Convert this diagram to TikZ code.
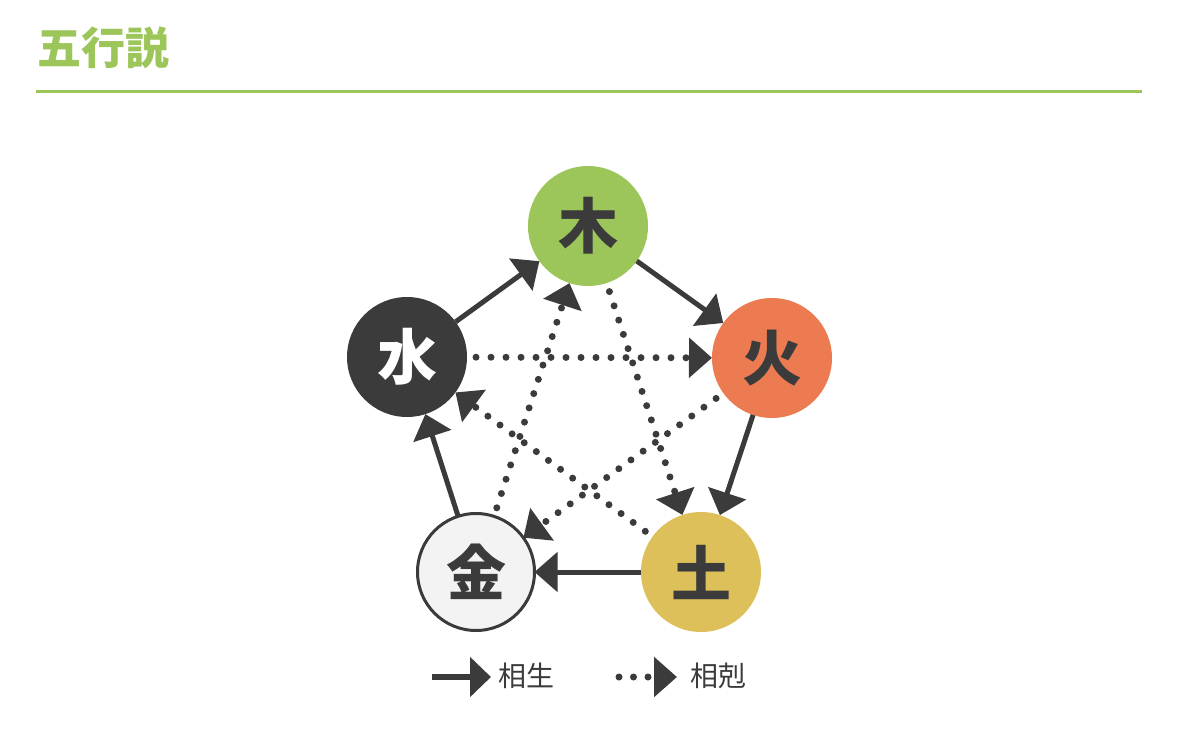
\documentclass[tikz,border=0pt]{standalone}
\usepackage{fontspec}
\newfontfamily\cjk{Noto Sans CJK JP}
\usetikzlibrary{arrows.meta}
\definecolor{wgreen}{HTML}{9CC55A}
\definecolor{wfire}{HTML}{EC7B51}
\definecolor{wdark}{HTML}{3B3B3B}
\definecolor{wmetal}{HTML}{F3F3F3}
\definecolor{wearth}{HTML}{DEC05A}
\tikzset{
  elem/.style={circle,minimum size=120pt,inner sep=0pt,outer sep=0pt,font=\cjk\bfseries\fontsize{60}{60}\selectfont,text=wdark},
  gen/.style={line width=5pt,draw=wdark,-{Triangle[length=23pt,width=39pt]}},
  ctrl/.style={line width=7pt,draw=wdark,line cap=round,dash pattern=on 0pt off 15pt,shorten <=9pt,-{Triangle[length=23pt,width=39pt]}},
  legtext/.style={font=\cjk\fontsize{28}{28}\selectfont,text=wdark,anchor=west,inner sep=0pt}
}
\begin{document}
\begin{tikzpicture}[x=1pt,y=-1pt]
\useasboundingbox (0,0) rectangle (1179,731);
% title
\node[font=\cjk\bfseries\fontsize{44}{44}\selectfont,text=wgreen,anchor=west,inner sep=0pt] (title) at (37,48) {五行説};
\coordinate (rulel) at (36,91.5);
\coordinate (ruler) at (1142,91.5);
\draw[line width=3pt,draw=wgreen] (rulel) -- (ruler);
% elements
\node[elem,fill=wgreen] (wood) at (588,226) {木};
\node[elem,fill=wfire] (fire) at (772,358) {火};
\node[elem,fill=wearth] (earth) at (701,572) {土};
\node[elem,fill=wmetal,draw=wdark,line width=3pt,minimum size=117pt] (metal) at (476,572) {金};
\node[elem,fill=wdark,text=white] (water) at (407,357) {水};
% generating cycle
\draw[gen] (water) -- (wood);
\draw[gen] (wood) -- (fire);
\draw[gen] (fire) -- (earth);
\draw[gen] (earth) -- (metal);
\draw[gen] (metal) -- (water);
% controlling cycle
\draw[ctrl] (water) -- (fire);
\draw[ctrl] (fire) -- (metal);
\draw[ctrl] (metal) -- (wood);
\draw[ctrl] (wood) -- (earth);
\draw[ctrl] (earth) -- (water);
% legend
\coordinate (gs) at (432,677);
\coordinate (ge) at (491,677);
\draw[line width=6pt,draw=wdark,-{Triangle[length=21pt,width=39pt]}] (gs) -- (ge);
\node[legtext] (gtext) at (498,676) {相生};
\coordinate (cs) at (619,677);
\coordinate (ce) at (677,677);
\draw[line width=7pt,draw=wdark,line cap=round,dash pattern=on 0pt off 14.5pt,-{Triangle[length=23pt,width=39pt]}] (cs) -- (ce);
\node[legtext] (ctext) at (690,676) {相剋};
\end{tikzpicture}
\end{document}
